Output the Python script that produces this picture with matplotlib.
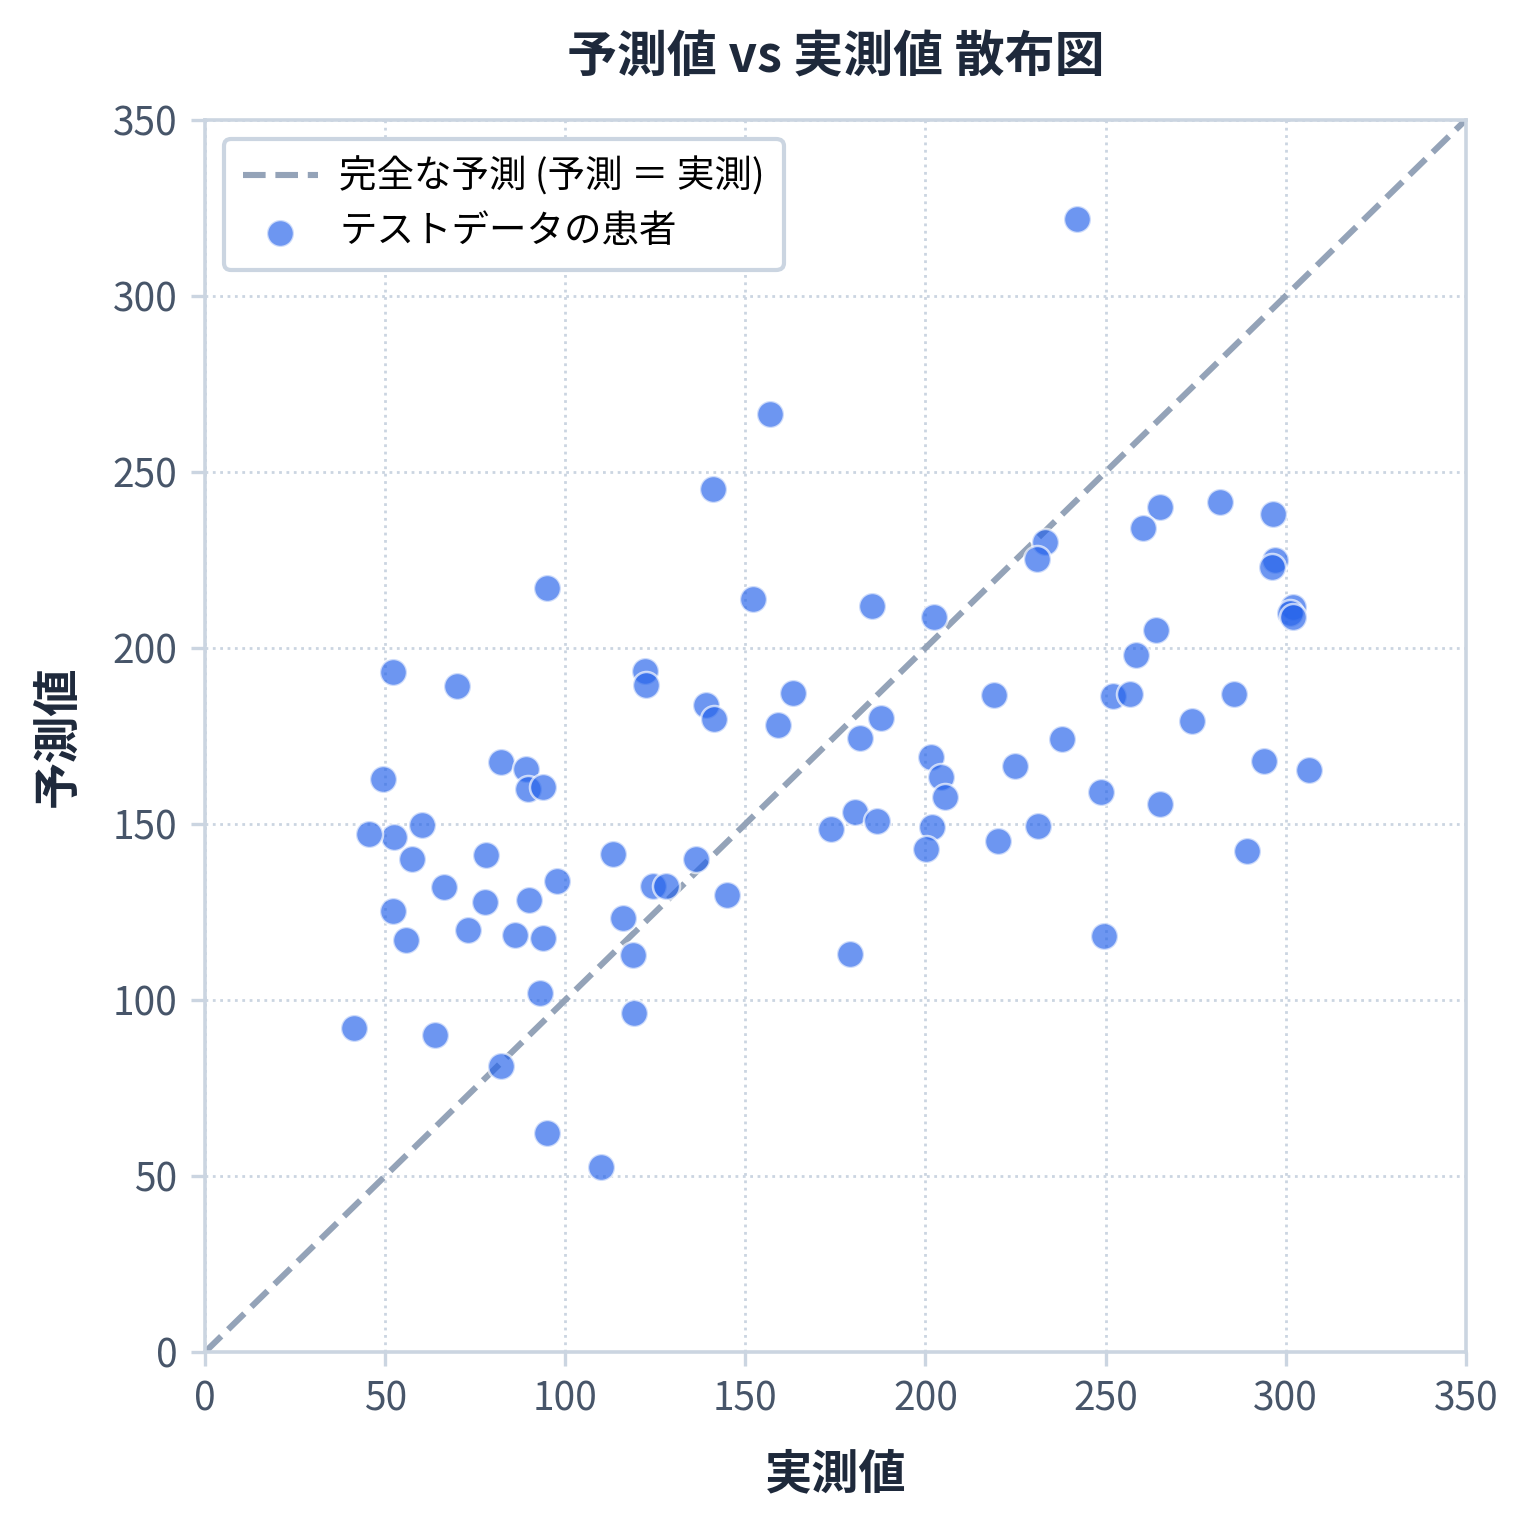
import matplotlib
matplotlib.use("Agg")
import matplotlib.pyplot as plt
import numpy as np

plt.rcParams['font.family'] = ['Noto Sans CJK JP', 'DejaVu Sans']
plt.rcParams['axes.unicode_minus'] = False

actual = [242.0, 156.8, 141.0, 94.9, 152.1, 185.1, 202.3, 281.7, 296.4, 265.1,
          260.3, 233.1, 230.9, 297.0, 296.1, 302.0, 301.1, 302.0, 264.0, 258.4,
          252.0, 256.7, 285.6, 273.9, 237.9, 293.9, 306.4, 248.7, 265.1, 289.2,
          249.5, 231.2, 224.8, 219.0, 220.1, 201.5, 204.3, 205.4, 201.8, 200.1,
          187.6, 181.8, 180.4, 186.5, 173.7, 179.0, 163.2, 159.0, 139.1, 141.3,
          122.1, 122.4, 136.3, 144.9, 124.3, 127.9, 113.2, 116.0, 118.8, 119.1,
          109.9, 94.9, 93.0, 82.2, 97.7, 93.8, 89.9, 86.0, 77.7, 78.0,
          73.0, 66.3, 63.8, 41.4, 55.8, 52.2, 57.5, 60.2, 52.5, 45.5,
          49.4, 52.2, 69.9, 82.2, 89.1, 89.6, 93.8]
predicted = [321.9, 266.5, 245.2, 217.0, 213.9, 211.9, 208.8, 241.5, 238.1, 240.1,
             234.1, 230.1, 225.3, 225.0, 223.0, 211.6, 209.9, 208.8, 205.1, 198.0,
             186.4, 186.9, 186.9, 179.3, 174.1, 167.9, 165.3, 159.1, 155.7, 142.3,
             118.2, 149.4, 166.5, 186.6, 145.2, 169.0, 163.4, 157.7, 149.1, 142.9,
             180.1, 174.4, 153.4, 150.9, 148.6, 113.1, 187.2, 178.1, 183.8, 179.8,
             193.5, 189.5, 140.1, 129.8, 132.3, 132.3, 141.5, 123.3, 112.8, 96.3,
             52.6, 62.2, 102.0, 81.3, 133.8, 117.6, 128.4, 118.5, 127.8, 141.2,
             119.9, 132.1, 90.1, 92.0, 117.0, 125.3, 140.1, 149.7, 146.3, 147.2,
             162.8, 193.2, 189.2, 167.6, 165.6, 159.9, 160.5]

axis_ticks = [0, 50, 100, 150, 200, 250, 300, 350]

fig, ax = plt.subplots(figsize=(7.65, 7.65), dpi=200)
fig.subplots_adjust(left=0.134, right=0.958, top=0.9216, bottom=0.1163)

# 完全な予測の対角線
ax.plot([0, 350], [0, 350], linestyle='--', color='#94a3b8', linewidth=2.2,
        label='完全な予測 (予測 ＝ 実測)', zorder=2)

ax.scatter(actual, predicted, s=95, color='#2563eb', alpha=0.67,
           edgecolors='white', linewidths=0.9, label='テストデータの患者', zorder=3)

ax.set_xlim(0, 350)
ax.set_ylim(0, 350)
ax.set_xticks(axis_ticks)
ax.set_yticks(axis_ticks)

ax.grid(True, linestyle=':', color='#cbd5e1', linewidth=1.0, zorder=0)
for sp in ax.spines.values():
    sp.set_color('#cbd5e1')
    sp.set_linewidth(1.3)
ax.tick_params(colors='#475569', labelsize=14, length=5, width=1.2, pad=5)
ax.tick_params(axis='both', which='both', color='#cbd5e1')

ax.set_xlabel('実測値', fontsize=17, weight='bold', color='#1e293b', labelpad=11)
ax.set_ylabel('予測値', fontsize=17, weight='bold', color='#1e293b', labelpad=11)
ax.set_title('予測値 vs 実測値 散布図', fontsize=18, weight='bold', color='#1e293b', pad=17)

leg = ax.legend(loc='upper left', fontsize=13.5, frameon=True, borderpad=0.5,
                labelspacing=0.42, handletextpad=0.58)
leg.get_frame().set_edgecolor('#cbd5e1')
leg.get_frame().set_linewidth(1.5)
leg.get_frame().set_alpha(1.0)

plt.savefig('out.png', dpi=200)
